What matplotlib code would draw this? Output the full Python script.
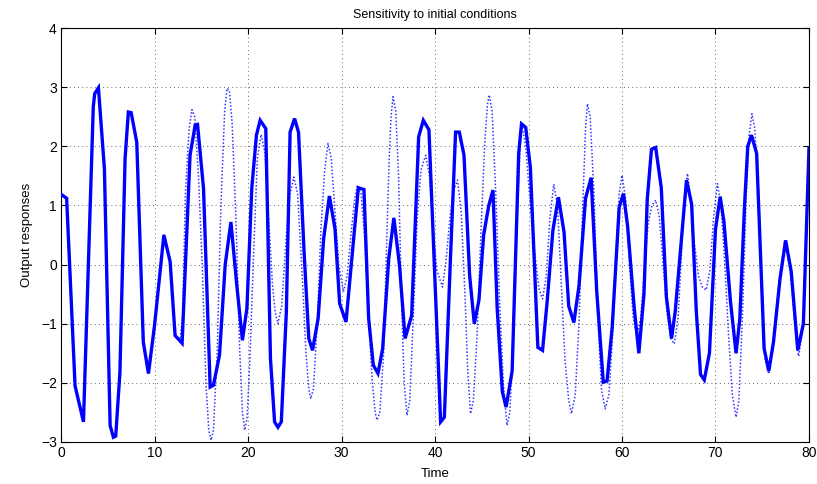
# Import libraries
import matplotlib
matplotlib.use("Agg")
import matplotlib.pyplot as plt

# Solid trajectory (vertices)
solid_t = [0.0, 0.6, 1.5, 2.4, 3.45, 3.6, 4.0, 4.64, 5.25, 5.6, 5.85, 6.3, 6.85, 7.2, 7.5,
           8.1, 8.8, 9.35, 10.0, 11.0, 11.67, 12.2, 12.95, 13.8, 14.35, 14.6, 15.24, 15.95,
           16.3, 16.95, 17.56, 18.17, 18.8, 19.4, 19.88, 20.4, 20.9, 21.3, 21.9, 22.4, 22.84,
           23.2, 23.56, 24.1, 24.5, 24.98, 25.4, 26.0, 26.5, 26.9, 27.5, 28.09, 28.7, 29.3,
           29.8, 30.48, 31.1, 31.8, 32.4, 32.9, 33.4, 33.9, 34.4, 35.05, 35.6, 36.2, 36.8,
           37.5, 38.25, 38.75, 39.35, 40.6, 41.0, 41.65, 42.2, 42.6, 43.1, 43.7, 44.2, 44.7,
           45.2, 45.75, 46.2, 46.65, 47.2, 47.6, 48.25, 48.95, 49.25, 49.7, 50.2, 51.0, 51.5,
           52.0, 52.6, 53.2, 53.8, 54.3, 54.85, 55.4, 56.1, 56.7, 57.3, 58.0, 58.4, 58.95,
           59.7, 60.15, 60.6, 61.3, 61.8, 62.35, 62.7, 63.15, 63.6, 64.2, 64.75, 65.3, 65.7,
           66.4, 66.9, 67.45, 67.95, 68.4, 68.8, 69.35, 70.0, 70.5, 70.9, 71.6, 72.2, 72.6,
           73.1, 73.45, 73.85, 74.4, 75.2, 75.7, 76.2, 76.9, 77.5, 78.1, 78.8, 79.4, 80.0]
solid_y = [1.19, 1.12, -2.05, -2.66, 2.67, 2.89, 2.99, 1.62, -2.72, -2.92, -2.9, -1.82, 1.79,
           2.58, 2.57, 2.07, -1.31, -1.84, -1.03, 0.5, 0.05, -1.2, -1.33, 1.85, 2.36, 2.37,
           1.29, -2.07, -2.04, -1.53, 0.0, 0.72, -0.35, -1.28, -0.74, 1.29, 2.19, 2.44, 2.3,
           -1.59, -2.66, -2.75, -2.66, -0.8, 2.24, 2.47, 2.24, 0.2, -1.25, -1.45, -0.91, 0.44,
           1.16, 0.61, -0.66, -0.97, 0.1, 1.3, 1.27, -0.91, -1.7, -1.84, -1.42, 0.1, 0.79,
           -0.01, -1.25, -0.86, 2.16, 2.44, 2.28, -2.66, -2.58, 0.1, 2.24, 2.24, 1.85, -0.18,
           -1.0, -0.6, 0.5, 1.0, 1.26, -0.74, -2.15, -2.41, -1.8, 1.88, 2.38, 2.32, 1.64, -1.4,
           -1.45, -0.62, 0.57, 1.14, 0.55, -0.7, -0.98, -0.36, 1.12, 1.47, -0.46, -1.99, -1.97,
           -1.06, 0.97, 1.2, 0.65, -0.72, -1.5, -0.5, 1.1, 1.95, 1.98, 1.3, -0.55, -1.25,
           -0.78, 0.5, 1.43, 1.02, -0.8, -1.86, -1.95, -1.5, 0.6, 1.15, 0.73, -0.62, -1.5,
           -0.92, 0.98, 2.0, 2.19, 1.88, -1.42, -1.8, -1.31, -0.24, 0.41, -0.12, -1.45, -1.0,
           1.97]

# Dotted trajectory (perturbed initial condition); identical to the solid one early on
dotted_t = [0.0, 0.6, 1.5, 2.4, 3.45, 3.6, 4.0, 4.64, 5.25, 5.6, 5.85, 6.3, 6.85, 7.2, 7.5,
            8.1, 8.8, 9.35, 10.0, 11.0, 11.67, 12.2, 12.7, 13.0, 13.3, 13.7, 14.0, 14.3,
            14.7, 15.1, 15.5, 15.8, 16.05, 16.3, 16.7, 17.1, 17.5, 17.75, 18.0, 18.3, 18.7,
            19.1, 19.4, 19.65, 19.9, 20.2, 20.6, 21.0, 21.4, 21.8, 22.2, 22.6, 22.9, 23.2,
            23.6, 24.1, 24.5, 24.9, 25.3, 25.8, 26.2, 26.5, 26.7, 27.0, 27.4, 27.8, 28.2,
            28.55, 28.9, 29.3, 29.7, 30.2, 30.6, 31.0, 31.4, 31.7, 32.1, 32.5, 32.9, 33.3,
            33.6, 33.8, 34.1, 34.5, 34.8, 35.1, 35.3, 35.5, 35.8, 36.1, 36.4, 36.7, 37.0,
            37.3, 37.7, 38.1, 38.5, 39.0, 39.4, 39.8, 40.2, 40.8, 41.2, 41.6, 42.0, 42.4,
            42.8, 43.2, 43.5, 43.8, 44.1, 44.5, 44.9, 45.3, 45.6, 45.8, 46.1, 46.5, 46.9,
            47.3, 47.7, 48.0, 48.4, 48.8, 49.1, 49.3, 49.7, 50.1, 50.6, 51.1, 51.5, 51.9,
            52.3, 52.7, 53.1, 53.5, 53.9, 54.3, 54.6, 55.0, 55.4, 55.8, 56.1, 56.3, 56.6,
            57.0, 57.4, 57.8, 58.2, 58.6, 59.0, 59.4, 59.7, 60.0, 60.4, 60.8, 61.2, 61.6,
            62.0, 62.4, 62.8, 63.2, 63.6, 64.0, 64.4, 64.8, 65.2, 65.6, 66.0, 66.4, 66.7,
            67.0, 67.3, 67.7, 68.2, 68.6, 69.0, 69.4, 69.8, 70.2, 70.6, 71.0, 71.4, 71.8,
            72.2, 72.5, 72.9, 73.3, 73.6, 73.9, 74.2, 74.6, 75.0, 75.3, 75.7, 76.1, 76.8,
            77.4, 78.0, 78.7, 78.9, 79.4, 80.0]
dotted_y = [1.19, 1.12, -2.05, -2.66, 2.67, 2.89, 2.99, 1.62, -2.72, -2.92, -2.9, -1.82, 1.79,
            2.58, 2.57, 2.07, -1.31, -1.84, -1.03, 0.5, 0.05, -1.2, -1.3, -0.9, 1.2, 2.3,
            2.62, 2.5, 1.5, 0.0, -2.0, -2.8, -2.97, -2.8, -1.5, 1.0, 2.6, 2.98, 2.95, 2.4,
            0.8, -1.4, -2.5, -2.8, -2.6, -1.6, 0.2, 1.8, 2.2, 1.9, 0.8, -0.3, -0.8, -1.0,
            -0.7, 0.5, 1.2, 1.48, 1.2, -0.2, -1.5, -2.1, -2.27, -2.1, -1.0, 0.6, 1.6, 2.05,
            1.8, 0.9, 0.0, -0.46, -0.2, 0.5, 1.1, 1.34, 1.2, 0.4, -0.9, -2.0, -2.5, -2.63,
            -2.5, -1.5, 0.2, 1.8, 2.5, 2.84, 2.6, 1.5, -0.5, -2.0, -2.55, -2.3, -0.8, 0.8,
            1.6, 1.85, 1.5, 0.6, -0.1, -0.38, 0.1, 0.8, 1.25, 1.43, 0.9, -0.5, -1.8, -2.52,
            -2.3, -1.2, 0.5, 2.0, 2.7, 2.87, 2.6, 1.2, -0.6, -2.0, -2.72, -2.5, -1.2, 0.8,
            2.0, 2.35, 2.0, 1.2, 0.3, -0.4, -0.58, -0.2, 0.8, 1.36, 1.0, -0.3, -1.6, -2.3,
            -2.52, -2.2, -1.0, 1.0, 2.3, 2.72, 2.5, 1.2, -0.8, -2.1, -2.44, -2.2, -1.2, 0.3,
            1.2, 1.51, 1.1, 0.0, -0.9, -1.22, -0.9, -0.1, 0.7, 1.0, 1.09, 0.8, 0.0, -0.8,
            -1.25, -1.34, -0.9, 0.3, 1.2, 1.54, 1.2, 0.4, -0.2, -0.38, -0.43, -0.1, 0.8,
            1.37, 1.0, 0.0, -1.2, -2.2, -2.58, -2.3, -0.8, 1.2, 2.2, 2.55, 2.3, 1.2, -0.6,
            -1.6, -1.85, -1.4, -0.3, 0.4, -0.1, -1.4, -1.55, -1.0, 2.0]

# Axis ticks
x_ticks = [0, 10, 20, 30, 40, 50, 60, 70, 80]
y_ticks = [-3, -2, -1, 0, 1, 2, 3, 4]


# Draw the figure in a MATLAB-like style
def plot_responses():
    plt.rcParams['font.family'] = ['Liberation Sans', 'DejaVu Sans']
    fig = plt.figure(figsize=(8.17, 4.84), dpi=100)
    ax = fig.add_axes([0.0747, 0.0868, 0.9155, 0.8552])

    ax.plot(solid_t, solid_y, color='#0000ff', lw=2.4, solid_joinstyle='miter', zorder=3)
    ax.plot(dotted_t, dotted_y, color='#0000ff', lw=1.1, ls=(0, (1, 1.3)), alpha=0.8,
            zorder=2)

    ax.set_xlim(0, 80)
    ax.set_ylim(-3, 4)
    ax.set_xticks(x_ticks)
    ax.set_yticks(y_ticks)
    ax.tick_params(direction='in', top=True, right=True, length=4, width=0.8,
                   labelsize=10, pad=3)
    ax.grid(True, color='#333333', ls=(0, (1, 4)), lw=0.6)
    for s in ax.spines.values():
        s.set_linewidth(0.8)

    ax.set_title('Sensitivity to initial conditions', fontsize=9, pad=7)
    ax.set_xlabel('Time', fontsize=9.5, labelpad=6)
    ax.set_ylabel('Output responses', fontsize=9.5, labelpad=6)

    fig.savefig('out.png', dpi=100)


# Main execution
if __name__ == "__main__":
    plot_responses()
